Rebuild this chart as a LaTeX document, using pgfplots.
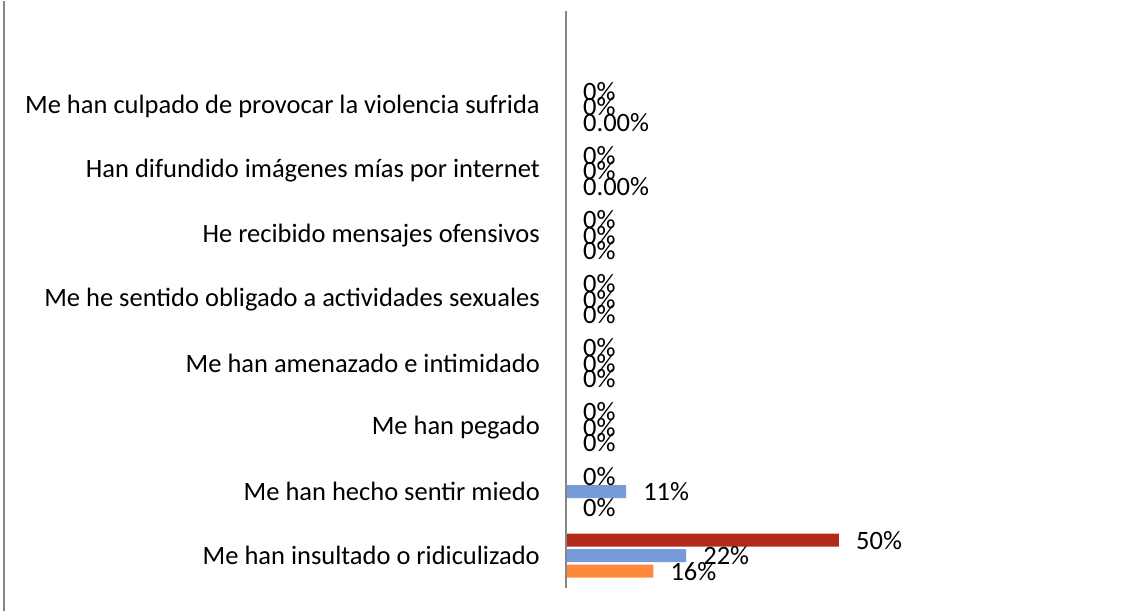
\documentclass[border=0pt]{standalone}
\usepackage{fontspec}
\setmainfont{Carlito}
\usepackage{pgfplots}
\pgfplotsset{compat=1.18}
\definecolor{cred}{RGB}{178,42,24}
\definecolor{cblue}{RGB}{119,155,216}
\definecolor{corange}{RGB}{255,137,58}
\definecolor{cgrid}{RGB}{134,134,134}
\newcommand{\lblfont}{\fontsize{26.5}{28}\selectfont}
\begin{document}
\begin{tikzpicture}[x=1pt,y=1pt]
\path (0,0) rectangle (1129,610);
\draw[cgrid, line width=1.5pt] (4,0) -- (4,610);
\begin{axis}[
  at={(566pt,23pt)}, anchor=south west,
  scale only axis, width=436.8pt, height=577pt,
  xmin=0, xmax=80, ymin=-0.5, ymax=8.5,
  xbar, bar width=13pt,
  axis line style={draw=none},
  xtick=\empty,
  ytick={0,1,2,3,4,5,6,7},
  yticklabels={Me han insultado o ridiculizado, Me han hecho sentir miedo, Me han pegado, Me han amenazado e intimidado, Me he sentido obligado a actividades sexuales, He recibido mensajes ofensivos, Han difundido imágenes mías por internet, Me han culpado de provocar la violencia sufrida},
  major tick length=0pt,
  yticklabel style={font=\lblfont, anchor=east, inner sep=0pt, xshift=-26pt, text=black},
  clip=false,
  nodes near coords,
  point meta=explicit symbolic,
  every node near coord/.append style={font=\lblfont, anchor=west, inner sep=0pt, xshift=17pt, text=black},
]
\addplot[xbar, bar shift=-15.5pt, fill=corange, draw=none] coordinates {(16,0)[16\%] (0,1)[0\%] (0,2)[0\%] (0,3)[0\%] (0,4)[0\%] (0,5)[0\%] (0,6)[0.00\%] (0,7)[0.00\%]};
\addplot[xbar, bar shift=0pt, fill=cblue, draw=none] coordinates {(22,0)[22\%] (11,1)[11\%] (0,2)[0\%] (0,3)[0\%] (0,4)[0\%] (0,5)[0\%] (0,6)[0\%] (0,7)[0\%]};
\addplot[xbar, bar shift=15.5pt, fill=cred, draw=none] coordinates {(50,0)[50\%] (0,1)[0\%] (0,2)[0\%] (0,3)[0\%] (0,4)[0\%] (0,5)[0\%] (0,6)[0\%] (0,7)[0\%]};
\draw[cgrid, line width=1.5pt] (axis cs:0,-0.5) -- (axis cs:0,8.5);
\end{axis}
\end{tikzpicture}
\end{document}
